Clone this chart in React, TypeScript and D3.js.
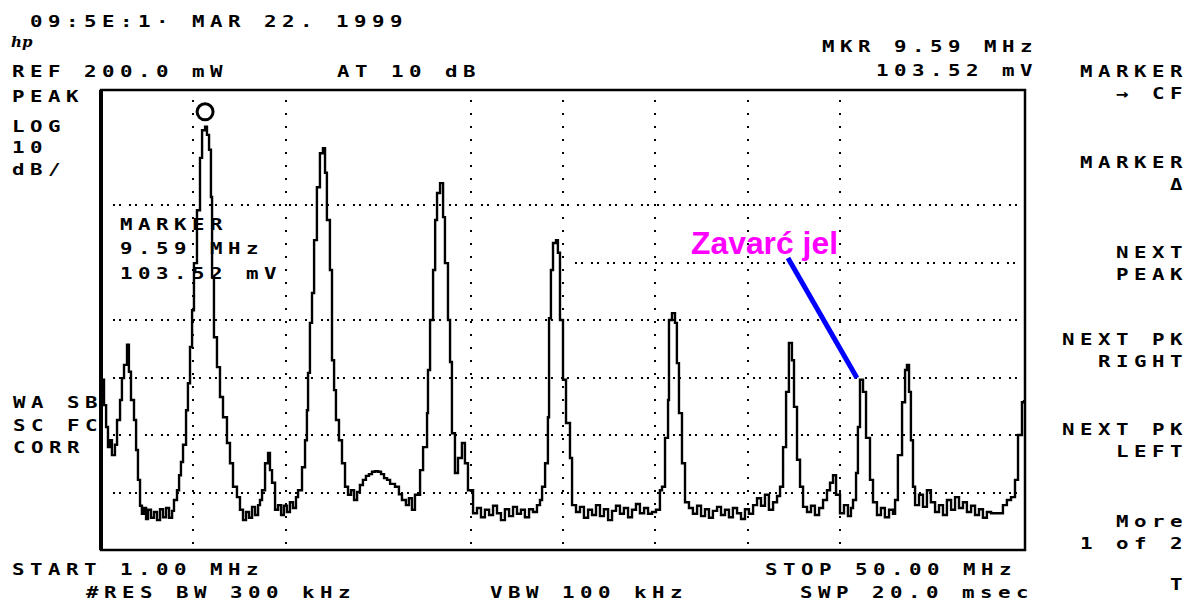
import React from "react";
import * as d3 from "d3";

// sweep settings
const startMHz = 1.0;
const stopMHz = 50.0;
const refLevel = 0; // dB relative to REF 200.0 mW
const dbPerDiv = 10;
const numDivY = 8;

// grid divisions drawn (some are lost in the scan)
const vDivs = [1, 2, 4, 5, 6, 7, 8];
const hDivs = [2, 4, 5, 6, 7];
const hDivsRightOnly = [3];

// trace, [MHz, dB]
const traceLeft: [number, number][] = [
  [1.05, -50.4], [1.16, -54.8], [1.27, -58.6], [1.37, -62.1], [1.48, -60.9], [1.58, -63.5],
  [1.74, -61.7], [1.85, -57.4], [2.01, -53.9], [2.11, -50.1], [2.22, -47.8], [2.38, -44.3],
  [2.48, -49.0], [2.59, -53.9], [2.75, -57.4], [2.86, -62.6], [2.96, -67.8], [3.07, -72.3],
  [3.17, -73.7], [3.28, -72.7], [3.39, -74.6], [3.49, -73.0], [3.65, -74.4], [3.81, -73.4],
  [3.97, -74.8], [4.13, -72.9], [4.29, -74.3], [4.45, -72.7], [4.61, -74.4], [4.77, -73.2],
  [4.87, -71.3],
];
const tracePeak1: [number, number][] = [
  [5.03, -69.6], [5.14, -67.0], [5.24, -64.7], [5.35, -61.7], [5.51, -55.7], [5.61, -51.0],
  [5.72, -44.7], [5.83, -38.3], [5.93, -30.1], [6.09, -20.9], [6.25, -11.8], [6.36, -7.0],
  [6.52, -6.4], [6.62, -7.8], [6.73, -10.4], [6.83, -18.6], [6.89, -32.5], [6.99, -43.0],
  [7.15, -48.2], [7.31, -53.4], [7.47, -56.9], [7.68, -61.4], [7.84, -64.9], [8.0, -69.0],
  [8.21, -70.8], [8.37, -73.0], [8.53, -74.8], [8.69, -73.4], [8.85, -74.4], [9.01, -72.5],
  [9.17, -73.9], [9.33, -72.2], [9.43, -71.3], [9.54, -69.6], [9.7, -64.9], [9.86, -63.1],
  [9.96, -66.1], [10.07, -68.3], [10.23, -73.0], [10.39, -72.2], [10.55, -73.9], [10.7, -72.3],
  [10.86, -73.4], [11.02, -71.7], [11.18, -72.7], [11.34, -70.8],
];
const tracePeak2: [number, number][] = [
  [11.45, -69.6], [11.66, -65.6], [11.82, -60.9], [11.92, -55.7], [11.98, -49.2], [12.08, -40.5],
  [12.19, -35.3], [12.3, -26.1], [12.45, -16.9], [12.61, -11.0], [12.77, -10.1], [12.88, -14.4],
  [12.98, -22.6], [13.14, -31.3], [13.25, -47.0], [13.36, -52.2], [13.46, -57.4], [13.62, -60.9],
  [13.78, -64.9], [13.94, -69.0], [14.1, -70.4], [14.26, -69.6], [14.42, -71.3], [14.58, -69.9],
  [14.73, -68.7], [14.89, -67.8], [15.05, -67.1], [15.21, -66.8], [15.37, -66.4], [15.53, -66.3],
  [15.69, -66.4], [15.85, -66.8], [16.01, -67.5], [16.17, -67.8], [16.33, -68.5], [16.59, -69.0],
  [16.8, -70.3], [16.96, -71.3], [17.17, -72.2], [17.33, -71.0], [17.49, -73.0], [17.65, -70.4],
];
const tracePeak3: [number, number][] = [
  [17.92, -66.1], [18.08, -62.1], [18.29, -56.2], [18.34, -48.7], [18.45, -40.0], [18.61, -31.3],
  [18.72, -22.6], [18.82, -17.9], [18.98, -16.2], [19.14, -22.1], [19.24, -30.1], [19.4, -40.0],
  [19.51, -47.3], [19.61, -59.7], [19.77, -66.6], [19.93, -64.0], [20.14, -61.4], [20.3, -64.9],
  [20.46, -69.6], [20.73, -73.6], [20.94, -72.7], [21.15, -74.3], [21.36, -73.0], [21.58, -73.9],
  [21.79, -72.3], [22.0, -73.6], [22.21, -74.8], [22.42, -72.9], [22.64, -74.1], [22.85, -72.5],
  [23.06, -73.7], [23.27, -73.0], [23.48, -74.3], [23.7, -72.9], [23.91, -73.4], [24.12, -72.2],
  [24.28, -71.3],
];
const tracePeak4: [number, number][] = [
  [24.39, -69.0], [24.55, -64.9], [24.7, -56.9], [24.76, -39.7], [24.86, -31.3], [24.97, -26.6],
  [25.13, -26.1], [25.23, -28.3], [25.34, -40.0], [25.5, -50.4], [25.66, -57.9], [25.87, -64.0],
  [25.98, -72.2], [26.19, -73.4], [26.4, -72.5], [26.61, -74.4], [26.83, -73.0], [27.04, -73.9],
  [27.25, -72.2], [27.46, -74.1], [27.67, -72.9], [27.89, -74.8], [28.1, -73.2], [28.31, -72.3],
  [28.52, -73.7], [28.73, -72.7], [28.95, -74.3], [29.16, -73.0], [29.37, -72.0], [29.58, -73.6],
  [29.8, -72.7], [30.01, -73.7], [30.22, -73.4], [30.43, -73.0],
];
const tracePeak5: [number, number][] = [
  [30.64, -69.6], [30.75, -69.0], [30.91, -60.5], [31.07, -53.9], [31.12, -40.0], [31.28, -38.8],
  [31.44, -40.5], [31.54, -47.5], [31.65, -56.2], [31.81, -64.9], [31.97, -71.7], [32.18, -72.7],
  [32.39, -73.7], [32.61, -72.3], [32.82, -74.1], [33.03, -72.9], [33.24, -74.4], [33.45, -73.2],
  [33.67, -72.5], [33.88, -73.9], [34.09, -73.0], [34.3, -74.3], [34.51, -72.7], [34.73, -73.6],
  [34.94, -74.6], [35.15, -72.9], [35.36, -73.7], [35.58, -72.2], [35.79, -71.0], [36.0, -72.3],
  [36.21, -70.4], [36.42, -73.0], [36.64, -71.7], [36.85, -70.6],
];
const tracePeak6: [number, number][] = [
  [37.01, -69.0], [37.17, -62.1], [37.33, -52.5], [37.48, -44.0], [37.64, -47.0], [37.75, -55.1],
  [37.91, -64.3], [38.07, -69.0], [38.23, -72.5], [38.44, -73.4], [38.65, -72.3], [38.86, -73.9],
  [39.08, -72.7], [39.29, -71.3], [39.5, -69.6], [39.66, -68.3], [39.82, -67.0], [39.98, -70.4],
  [40.19, -73.6], [40.4, -72.2], [40.61, -74.1], [40.77, -72.7],
];
const tracePeak7: [number, number][] = [
  [40.88, -71.3], [41.04, -66.6], [41.14, -58.6], [41.25, -50.4], [41.41, -52.5], [41.57, -60.5],
  [41.78, -67.8], [41.94, -71.7], [42.15, -73.9], [42.36, -72.7], [42.57, -74.3], [42.79, -73.0],
  [43.0, -73.7],
];
const traceRight: [number, number][] = [
  [43.11, -71.3], [43.26, -63.5], [43.48, -54.3], [43.64, -48.7], [43.74, -47.8], [43.85, -52.5],
  [43.95, -60.9], [44.06, -69.0], [44.17, -72.2], [44.38, -70.4], [44.59, -72.5], [44.8, -69.6],
  [45.01, -71.7], [45.23, -73.4], [45.44, -72.2], [45.65, -73.9], [45.86, -71.3], [46.08, -73.0],
  [46.29, -70.8], [46.5, -72.7], [46.71, -71.7], [46.92, -73.4], [47.14, -72.3], [47.35, -73.9],
  [47.56, -72.9], [47.77, -74.4], [47.98, -73.4], [48.2, -73.6], [48.41, -73.6], [48.62, -73.6],
  [48.83, -72.2], [49.04, -71.3], [49.26, -70.8], [49.47, -67.8], [49.63, -60.0], [49.84, -54.3],
  [49.95, -53.9],
];

const marker: [number, number] = [6.52, -6.4];
const annotation: [number, number][] = [[37.43, -29.2], [41.09, -50.1]];
const annotationText = "Zavarć jel";

// screen annotations
const headerLines = [
  { t: "09:5E:1· MAR 22. 1999", x: 30, y: 27 },
  { t: "REF 200.0 mW", x: 12, y: 77 },
  { t: "AT 10 dB", x: 337, y: 77 },
  { t: "MKR 9.59 MHz", x: 822, y: 52 },
  { t: "103.52 mV", x: 876, y: 76 },
  { t: "PEAK", x: 12, y: 102 },
  { t: "LOG", x: 12, y: 132 },
  { t: "10", x: 12, y: 153 },
  { t: "dB/", x: 12, y: 175 },
  { t: "WA SB", x: 13, y: 408 },
  { t: "SC FC", x: 13, y: 431 },
  { t: "CORR", x: 13, y: 453 },
  { t: "MARKER", x: 120, y: 230 },
  { t: "9.59 MHz", x: 120, y: 254 },
  { t: "103.52 mV", x: 120, y: 279 },
  { t: "START 1.00 MHz", x: 12, y: 575 },
  { t: "STOP 50.00 MHz", x: 765, y: 575 },
  { t: "#RES BW 300 kHz", x: 86, y: 598 },
  { t: "VBW 100 kHz", x: 490, y: 598 },
  { t: "SWP 20.0 msec", x: 800, y: 598 },
];
const softkeys = [
  ["MARKER", "→ CF"],
  ["MARKER", "Δ"],
  ["NEXT", "PEAK"],
  ["NEXT PK", "RIGHT"],
  ["NEXT PK", "LEFT"],
  ["More", "1 of 2"],
];
const softkeyTops = [77, 168, 258, 345, 435, 527];

const W = 1190;
const H = 603;
const plot = { left: 101, top: 90, right: 1025, bottom: 550 };
const pitch = 18;
const fs = 16;
const stretch = 1.3;

function Label({ t, x, y }: { t: string; x: number; y: number }) {
  return (
    <text
      transform={`translate(${x},${y}) scale(${stretch},1)`}
      fontFamily="'DejaVu Sans Mono', monospace"
      fontSize={fs}
      fontWeight="bold"
      letterSpacing={pitch / stretch - 0.602 * fs}
      fill="#000"
    >
      {t}
    </text>
  );
}

export default function App() {
  const x = d3.scaleLinear().domain([startMHz, stopMHz]).range([plot.left, plot.right]);
  const y = d3
    .scaleLinear()
    .domain([refLevel - dbPerDiv * numDivY, refLevel])
    .range([plot.bottom, plot.top]);

  const trace = [
    ...traceLeft, ...tracePeak1, ...tracePeak2, ...tracePeak3, ...tracePeak4,
    ...tracePeak5, ...tracePeak6, ...tracePeak7, ...traceRight,
  ];
  const line = d3
    .line<[number, number]>()
    .x((d) => x(d[0]))
    .y((d) => y(d[1]))
    .curve(d3.curveStepAfter);
  const straight = d3
    .line<[number, number]>()
    .x((d) => x(d[0]))
    .y((d) => y(d[1]));

  const span = stopMHz - startMHz;

  return (
    <>
      <style>{`body{margin:0;background:#fff}`}</style>
      <svg width={W} height={H} style={{ display: "block", background: "#fff" }}>
        {/* grid */}
        <g stroke="#000" strokeWidth={2} fill="none">
          {vDivs.map((k) => {
            const gx = Math.round(x(startMHz + (k * span) / 10));
            return (
              <line key={"v" + k} x1={gx} x2={gx} y1={plot.top + 10} y2={plot.bottom - 4}
                strokeDasharray="2 11" />
            );
          })}
          {hDivs.map((k) => {
            const gy = Math.round(y(refLevel - k * dbPerDiv));
            return (
              <line key={"h" + k} x1={plot.left + 12} x2={plot.right - 4} y1={gy} y2={gy}
                strokeDasharray="2 4 2 8" />
            );
          })}
          {hDivsRightOnly.map((k) => {
            const gy = Math.round(y(refLevel - k * dbPerDiv));
            return (
              <line key={"hr" + k} x1={x(startMHz + span / 2) + 12} x2={plot.right - 4} y1={gy} y2={gy}
                strokeDasharray="2 4 2 8" />
            );
          })}
        </g>

        {/* frame */}
        <rect x={plot.left} y={plot.top} width={plot.right - plot.left} height={plot.bottom - plot.top}
          fill="none" stroke="#000" strokeWidth={2.5} />
        <line x1={plot.left} x2={plot.left} y1={plot.top} y2={plot.bottom} stroke="#000" strokeWidth={4} />

        {/* trace */}
        <path d={line(trace) || ""} fill="none" stroke="#000" strokeWidth={2.4} />

        {/* marker */}
        <circle cx={x(marker[0])} cy={y(marker[1]) - 15} r={8} fill="none" stroke="#000" strokeWidth={3} />

        {/* hand annotation */}
        <path d={straight(annotation) || ""} fill="none" stroke="#0000ff" strokeWidth={5} />
        <text x={691} y={254} fontFamily="'Liberation Sans', Arial, sans-serif" fontSize={31}
          fontWeight="bold" fill="#ff00ff" textLength={147} lengthAdjust="spacingAndGlyphs">
          {annotationText}
        </text>

        {/* hp logo */}
        <text x={11} y={47} fontFamily="'DejaVu Serif', serif" fontStyle="italic" fontWeight="bold"
          fontSize={15} fill="#000">hp</text>

        {headerLines.map((l, i) => (
          <Label key={i} t={l.t} x={l.x} y={l.y} />
        ))}

        {softkeys.map((k, i) => (
          <g key={"sk" + i}>
            <Label t={k[0]} x={1188 - k[0].length * pitch} y={softkeyTops[i]} />
            <Label t={k[1]} x={1188 - k[1].length * pitch} y={softkeyTops[i] + 22} />
          </g>
        ))}
        <Label t="T" x={1188 - pitch} y={590} />
      </svg>
    </>
  );
}
